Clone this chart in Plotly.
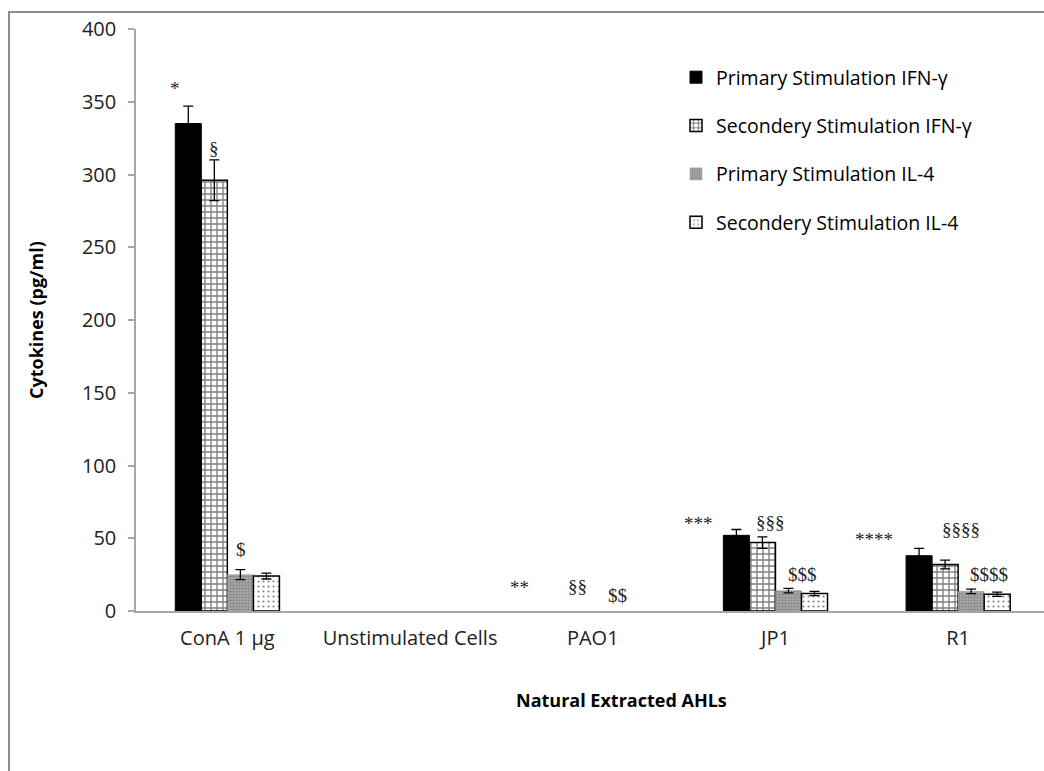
import plotly.graph_objects as go

# Categories on the x axis
categories = ["ConA 1 µg", "Unstimulated Cells", "PAO1", "JP1", "R1"]

# Cytokine levels (pg/ml) and their error margins for each series
primary_ifn = [335, None, None, 52, 38]
primary_ifn_err = [12, 0, 0, 4, 5]
secondary_ifn = [296, None, None, 47, 32]
secondary_ifn_err = [14, 0, 0, 4, 3]
primary_il4 = [25, None, None, 14, 13.5]
primary_il4_err = [3.5, 0, 0, 1.5, 1.5]
secondary_il4 = [24, None, None, 12, 11.5]
secondary_il4_err = [2, 0, 0, 1.5, 1.5]

series_names = [
    "Primary Stimulation IFN-γ",
    "Secondery Stimulation IFN-γ",
    "Primary Stimulation IL-4",
    "Secondery Stimulation IL-4",
]

# Significance marks: (text, category index, offset within the group, y value)
sig_marks = [
    ("*", 0, -0.285, 359),
    ("§", 0, -0.075, 318),
    ("$", 0, 0.072, 42),
    ("**", 2, -0.40, 16),
    ("§§", 2, -0.085, 16.5),
    ("$$", 2, 0.137, 11),
    ("***", 3, -0.42, 60),
    ("§§§", 3, -0.027, 61),
    ("$$$", 3, 0.148, 25),
    ("****", 4, -0.46, 49),
    ("§§§§", 4, 0.016, 56),
    ("$$$$", 4, 0.17, 25),
]

FONT = "Open Sans"
SERIF = "Liberation Serif"

# plot area in pixels
L, T, B = 136, 29, 160
W, H = 1044, 771
PW, PH = W - L, H - T - B

def px_x(px):
    return (px - L) / PW

def px_y(py):
    return (H - B - py) / PH

x_idx = list(range(len(categories)))

styles = [
    dict(color="black", line=dict(color="black", width=1)),
    dict(color="white", line=dict(color="black", width=1.5),
         pattern=dict(shape="+", fgcolor="black", bgcolor="white", size=6, solidity=0.4)),
    dict(color="#9a9a9a", line=dict(color="#9a9a9a", width=0.5),
         pattern=dict(shape=".", fgcolor="#5e5e5e", bgcolor="#a8a8a8", size=3, solidity=0.4)),
    dict(color="white", line=dict(color="black", width=1.5),
         pattern=dict(shape=".", fgcolor="black", bgcolor="white", size=5, solidity=0.14)),
]
values = [primary_ifn, secondary_ifn, primary_il4, secondary_il4]
errors = [primary_ifn_err, secondary_ifn_err, primary_il4_err, secondary_il4_err]

fig = go.Figure()
for i, (name, vals, errs, st) in enumerate(zip(series_names, values, errors, styles)):
    fig.add_trace(go.Bar(
        name=name,
        x=x_idx,
        y=vals,
        marker=st,
        legendgroup=f"g{i}",
        error_y=dict(type="data", array=errs, visible=True, color="black",
                     thickness=1.3, width=5),
    ))

for text, ci, off, yv in sig_marks:
    fig.add_annotation(
        x=ci + off, y=yv, xref="x", yref="y", text=text, showarrow=False,
        font=dict(family=SERIF, size=19, color="#222"),
    )

# x-axis title
fig.add_annotation(
    x=px_x(621), y=px_y(700), xref="paper", yref="paper",
    xanchor="center", yanchor="middle",
    text="<b>Natural Extracted AHLs</b>", showarrow=False,
    font=dict(family=FONT, size=18, color="black"),
)

# y-axis title
fig.add_annotation(
    x=px_x(36), y=px_y(320), xref="paper", yref="paper",
    xanchor="center", yanchor="middle", textangle=-90,
    text="<b>Cytokines (pg/ml)</b>", showarrow=False,
    font=dict(family=FONT, size=18, color="black"),
)

# outer chart border
fig.add_shape(
    type="rect", xref="paper", yref="paper",
    x0=px_x(9), x1=px_x(1060), y0=px_y(790), y1=px_y(12),
    line=dict(color="#8c8c8c", width=2), fillcolor="rgba(0,0,0,0)",
)

fig.update_layout(
    width=W, height=H,
    margin=dict(l=L, r=0, t=T, b=B, autoexpand=False),
    paper_bgcolor="white", plot_bgcolor="white",
    barmode="group", bargap=0.43, bargroupgap=0,
    font=dict(family=FONT, size=17, color="#222"),
    legend=dict(
        x=px_x(676), y=px_y(58), xanchor="left", yanchor="top",
        traceorder="grouped", tracegroupgap=20,
        font=dict(family=FONT, size=19.5, color="black"),
        bgcolor="rgba(0,0,0,0)",
    ),
    xaxis=dict(
        tickmode="array", tickvals=x_idx, ticktext=categories,
        range=[-0.5, 4.47], showline=True, linecolor="#a6a6a6", linewidth=1.5,
        ticks="", showgrid=False, zeroline=False, ticklabelstandoff=8,
        tickfont=dict(family=FONT, size=20, color="#222"),
    ),
    yaxis=dict(
        range=[0, 400], dtick=50, showline=True, linecolor="#a6a6a6", linewidth=1.5,
        ticks="outside", ticklen=6, tickcolor="#a6a6a6", tickwidth=1.5,
        showgrid=False, zeroline=False, ticklabelstandoff=8,
        tickfont=dict(family=FONT, size=20, color="#222"),
    ),
)

fig.write_html("out.html")
